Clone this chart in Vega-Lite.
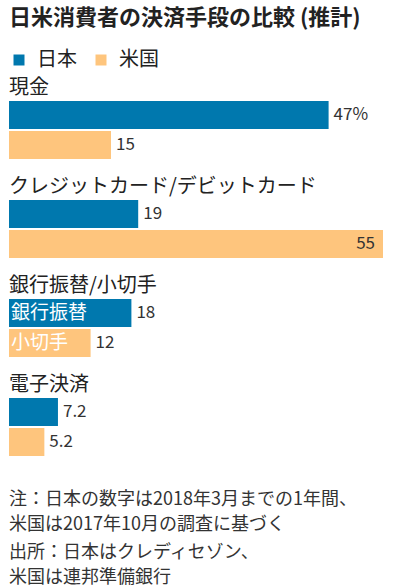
{
  "$schema": "https://vega.github.io/schema/vega-lite/v6.json",
  "padding": {"left": 9, "top": 7, "right": 0, "bottom": 0},
  "background": "white",
  "title": {
    "text": "日米消費者の決済手段の比較 (推計)",
    "anchor": "start",
    "font": "Noto Sans CJK JP",
    "fontSize": 22,
    "fontWeight": "bold",
    "color": "#222222",
    "offset": 20
  },
  "config": {
    "font": "Noto Sans CJK JP",
    "view": {"stroke": null},
    "concat": {"spacing": 17}
  },
  "resolve": {"scale": {"x": "independent", "y": "independent"}},
  "vconcat": [
    {
      "data": {
        "values": [
          {"category": "現金", "country": "日本", "value": 47, "label": "47%", "pos": "out", "inbar": ""},
          {"category": "現金", "country": "米国", "value": 15, "label": "15", "pos": "out", "inbar": ""},
          {"category": "クレジットカード/デビットカード", "country": "日本", "value": 19, "label": "19", "pos": "out", "inbar": ""},
          {"category": "クレジットカード/デビットカード", "country": "米国", "value": 55, "label": "55", "pos": "in", "inbar": ""},
          {"category": "銀行振替/小切手", "country": "日本", "value": 18, "label": "18", "pos": "out", "inbar": "銀行振替"},
          {"category": "銀行振替/小切手", "country": "米国", "value": 12, "label": "12", "pos": "out", "inbar": "小切手"},
          {"category": "電子決済", "country": "日本", "value": 7.2, "label": "7.2", "pos": "out", "inbar": ""},
          {"category": "電子決済", "country": "米国", "value": 5.2, "label": "5.2", "pos": "out", "inbar": ""}
        ]
      },
      "facet": {
        "row": {
          "field": "category",
          "type": "nominal",
          "sort": ["現金", "クレジットカード/デビットカード", "銀行振替/小切手", "電子決済"],
          "header": {
            "title": null,
            "labelOrient": "top",
            "labelAnchor": "start",
            "labelAlign": "left",
            "labelAngle": 0,
            "labelFont": "Noto Sans CJK JP",
            "labelFontSize": 20,
            "labelColor": "#222222",
            "labelPadding": -17
          }
        }
      },
      "spacing": {"row": 18},
      "spec": {
        "width": 374,
        "height": 58,
        "encoding": {
          "y": {
            "field": "country",
            "type": "nominal",
            "sort": ["日本", "米国"],
            "axis": null,
            "scale": {"paddingInner": 0.067, "paddingOuter": 0}
          }
        },
        "layer": [
          {
            "mark": {"type": "bar"},
            "encoding": {
              "x": {"field": "value", "type": "quantitative", "axis": null, "scale": {"domain": [0, 55], "nice": false}},
              "color": {
                "field": "country",
                "type": "nominal",
                "sort": ["日本", "米国"],
                "scale": {"domain": ["日本", "米国"], "range": ["#0078AE", "#FEC57D"]},
                "legend": {
                  "orient": "top",
                  "direction": "horizontal",
                  "title": null,
                  "symbolType": "square",
                  "symbolSize": 121,
                  "symbolStrokeWidth": 0,
                  "labelFont": "Noto Sans CJK JP",
                  "labelFontSize": 20,
                  "labelColor": "#222222",
                  "labelOffset": 8,
                  "columnPadding": 14,
                  "offset": 8
                }
              }
            }
          },
          {
            "transform": [{"filter": "datum.pos == 'out'"}],
            "mark": {"type": "text", "align": "left", "baseline": "middle", "dx": 5, "fontSize": 17, "color": "#333333"},
            "encoding": {
              "x": {"field": "value", "type": "quantitative"},
              "text": {"field": "label"}
            }
          },
          {
            "transform": [{"filter": "datum.pos == 'in'"}],
            "mark": {"type": "text", "align": "right", "baseline": "middle", "dx": -8, "fontSize": 17, "color": "#333333"},
            "encoding": {
              "x": {"field": "value", "type": "quantitative"},
              "text": {"field": "label"}
            }
          },
          {
            "transform": [{"filter": "datum.inbar != ''"}],
            "mark": {"type": "text", "align": "left", "baseline": "middle", "dx": 2, "fontSize": 19, "color": "white"},
            "encoding": {
              "x": {"datum": 0, "type": "quantitative"},
              "text": {"field": "inbar"}
            }
          }
        ]
      }
    },
    {
      "data": {
        "values": [
          {"line": 1, "text": "注：日本の数字は2018年3月までの1年間、\n米国は2017年10月の調査に基づく"},
          {"line": 2, "text": "出所：日本はクレディセゾン、\n米国は連邦準備銀行"}
        ]
      },
      "width": 374,
      "height": 106,
      "mark": {"type": "text", "align": "left", "baseline": "middle", "lineBreak": "\n", "lineHeight": 25, "fontSize": 18, "color": "#333333"},
      "encoding": {
        "x": {"datum": 0, "type": "quantitative", "axis": null, "scale": {"domain": [0, 1]}},
        "y": {"field": "line", "type": "ordinal", "axis": null, "scale": {"paddingInner": 0, "paddingOuter": 0}},
        "text": {"field": "text"}
      }
    }
  ]
}
